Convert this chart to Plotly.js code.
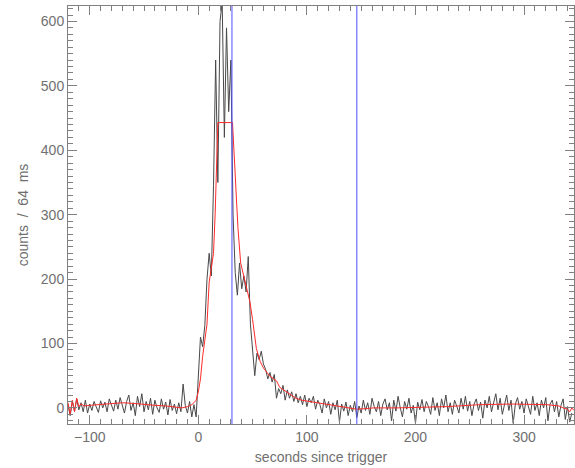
<!DOCTYPE html>
<html>
<head>
<meta charset="utf-8">
<script src="https://cdn.plot.ly/plotly-3.0.1.min.js"></script>
<style>html,body{margin:0;padding:0;background:#fff}#chart{width:575px;height:468px}</style>
</head>
<body>
<div id="chart"></div>
<script>
// Light curve: counts per 64 ms, 2 s bins starting at -120 s
var binStart = -120;
var binWidth = 2;
var lightCurve = [
  5,-12,10,-5,14,-3,8,-6,12,-8,
  6,-4,10,2,-7,11,0,9,-6,14,
  3,-5,12,-2,16,4,-8,10,20,-4,
  8,-12,18,2,22,-6,10,-3,15,-10,
  12,0,-7,14,-2,9,-11,13,-4,6,
  -9,8,-6,37,4,-8,10,-14,5,-14,
  55,110,95,128,200,240,205,345,540,350,
  600,630,420,590,460,540,300,210,175,225,
  185,205,180,235,130,95,50,85,75,88,
  68,60,45,55,40,52,15,30,22,35,
  12,28,15,25,10,22,8,18,5,20,
  2,15,8,18,-2,12,5,-8,14,0,
  10,-10,8,-3,12,-22,6,-5,9,-12,
  4,-6,10,-15,3,-8,12,-4,8,-10,
  15,2,-6,10,-12,6,14,-3,8,-20,
  12,-5,18,0,-14,10,-2,15,-8,4,
  -24,9,-3,13,-6,10,2,-10,16,-4,
  8,-12,14,0,20,-6,8,-10,12,3,
  -8,15,-2,18,-5,10,-12,6,14,-4,
  9,-16,12,0,18,-6,10,22,-3,15,
  -10,8,20,-4,12,-24,6,16,-2,10,
  -8,14,2,-10,18,-4,8,-12,12,0,
  16,-20,6,12,-6,10,-14,4,14,-18,
  2,-22,-8
];
// Smooth model curve
var fitTime = [-120,-118,-116,-114,-112,-110,-108,-105,-100,-90,-80,-70,-60,-50,-40,-30,-20,-15,-10,-6,-4,-2,0,2,4,6,8,10,12,14,15.5,17,18,31.5,33.5,35,36.5,39,43,47.5,50,53.5,57,60,66,72,75,80,84,90,95,106,121,130,137,146,155,161,183,204,229,259,290,321,332,336,340,342,344,346];
var fitCounts = [8,-10,12,-6,15,2,6,3,4,5,6,8,7,5,4,3,1,0,2,5,8,12,25,45,80,110,130,195,215,240,300,380,443,443,380,330,280,225,195,165,137,92,72,62,49,42,32,26,22,15,12,9,5,2,0,-2,-1,0,0,1,2,5,6,5,3,0,-2,-6,0,-4];
// Interval markers (seconds since trigger)
var markerTimes = [31, 146];

var binTimes = lightCurve.map(function(v, i){ return binStart + i * binWidth; });

var traces = [
  {x: binTimes, y: lightCurve, type: 'scatter', mode: 'lines',
   line: {color: '#484848', width: 1}, hoverinfo: 'skip'},
  {x: fitTime, y: fitCounts, type: 'scatter', mode: 'lines',
   line: {color: '#ff2a2a', width: 1}, hoverinfo: 'skip'}
];

var shapes = markerTimes.map(function(t){
  return {type: 'line', xref: 'x', yref: 'paper', x0: t, x1: t, y0: 0, y1: 1,
          line: {color: '#5050ff', width: 1}};
});

var axisCommon = {
  showgrid: false, zeroline: false, showline: true, linecolor: '#808080', linewidth: 1,
  mirror: 'ticks', ticks: 'inside', tickcolor: '#808080', ticklen: 9, tickwidth: 1,
  tickfont: {family: 'Liberation Sans, Arial, sans-serif', size: 14, color: '#707070'}
};

var layout = {
  width: 575, height: 468,
  margin: {l: 68, r: 1, t: 6, b: 44},
  paper_bgcolor: '#ffffff', plot_bgcolor: '#ffffff',
  showlegend: false,
  xaxis: Object.assign({}, axisCommon, {
    range: [-120, 346], tick0: 0, dtick: 100,
    minor: {dtick: 10, ticks: 'inside', ticklen: 5, tickcolor: '#808080'},
    title: {text: 'seconds since trigger', standoff: 8,
            font: {family: 'Liberation Sans, Arial, sans-serif', size: 14, color: '#707070'}}
  }),
  yaxis: Object.assign({}, axisCommon, {
    range: [-25, 624], tick0: 0, dtick: 100,
    minor: {dtick: 10, ticks: 'inside', ticklen: 5, tickcolor: '#808080'},
    title: {text: 'counts  /  64  ms', standoff: 8,
            font: {family: 'Liberation Sans, Arial, sans-serif', size: 14, color: '#707070'}}
  }),
  shapes: shapes
};

Plotly.newPlot('chart', traces, layout, {displayModeBar: false, staticPlot: true});
</script>
</body>
</html>
